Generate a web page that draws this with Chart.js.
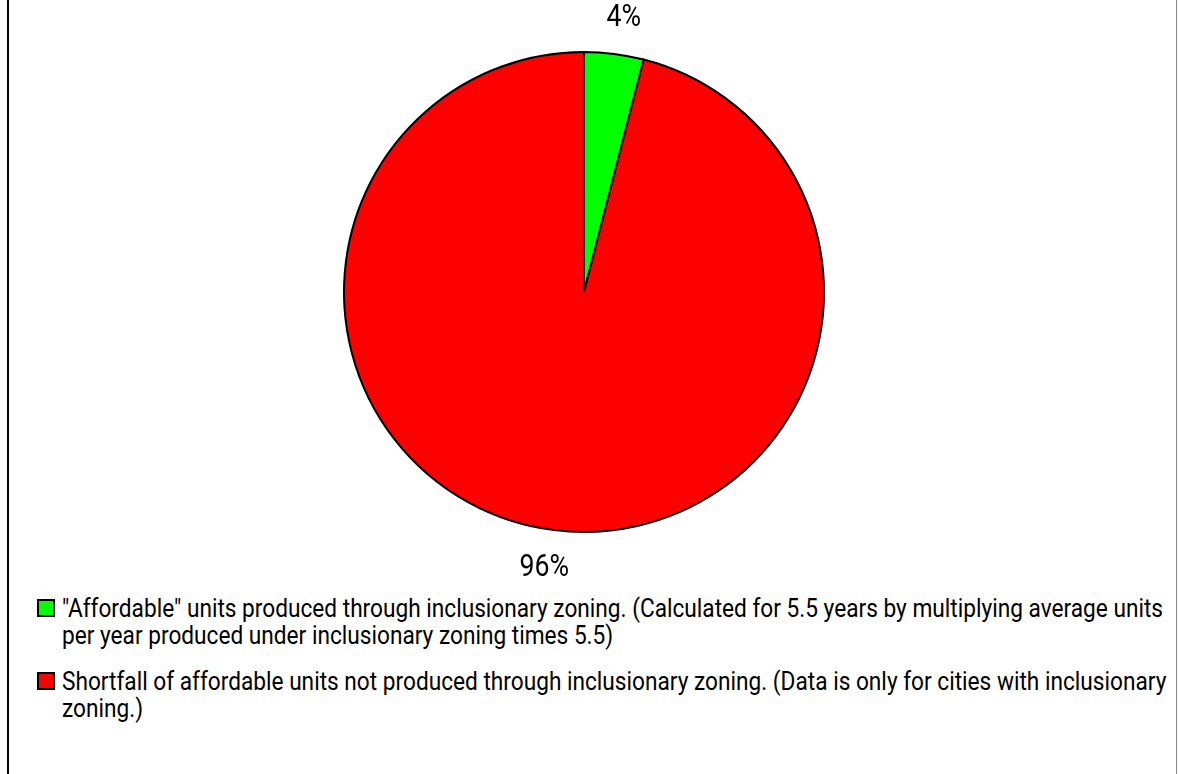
<!DOCTYPE html>
<html>
<head>
<meta charset="utf-8">
<script src="https://cdn.jsdelivr.net/npm/chart.js@4/dist/chart.umd.min.js"></script>
<style>
  html, body { margin: 0; padding: 0; background: #fff; }
  #wrap { position: relative; width: 1178px; height: 774px; overflow: hidden; }
  #lb { position: absolute; left: 7px; top: 0; width: 2px; height: 774px; background: #000; }
  #rb { position: absolute; left: 1176px; top: 0; width: 1px; height: 774px; background: #888; }
  #cv { position: absolute; left: 0; top: 0; }
  #legend { position: absolute; left: 37px; top: 595px;
            font-family: Roboto, "DejaVu Sans Condensed", sans-serif;
            font-size: 25px; color: #000; }
  .item { position: relative; height: 27px; margin-bottom: 46px; }
  .box { position: absolute; left: 0; top: 4px; width: 14px; height: 14px; border: 2px solid #000; }
  .txt { position: absolute; left: 25px; top: 0; line-height: 27px; transform-origin: 0 0; }
</style>
</head>
<body>
<div id="wrap">
  <div id="lb"></div>
  <div id="rb"></div>
  <canvas id="cv" width="1178" height="584"></canvas>
  <div id="legend"></div>
</div>
<script>
const categories = [
  "\"Affordable\" units produced through inclusionary zoning. (Calculated for 5.5 years by multiplying average units per year produced under inclusionary zoning times 5.5)",
  "Shortfall of affordable units not produced through inclusionary zoning. (Data is only for cities with inclusionary zoning.)"
];
const percentValues = [4, 96];
const sliceColors = ["#00FF00", "#FF0000"];

const FONT = 'Roboto, "DejaVu Sans Condensed", sans-serif';
const NARROW = 0.86;

const labelPlugin = {
  id: 'outerLabels',
  afterDatasetsDraw(chart) {
    const ctx = chart.ctx;
    const meta = chart.getDatasetMeta(0);
    const total = percentValues.reduce((a, b) => a + b, 0);
    ctx.save();
    ctx.font = '31px ' + FONT;
    ctx.fillStyle = '#000';
    ctx.textAlign = 'center';
    ctx.textBaseline = 'middle';
    meta.data.forEach((arc, i) => {
      const p = arc.getProps(['x', 'y', 'startAngle', 'endAngle', 'outerRadius'], true);
      const mid = (p.startAngle + p.endAngle) / 2;
      const r = p.outerRadius + 37;
      const txt = Math.round(percentValues[i] / total * 100) + '%';
      const lx = p.x + Math.cos(mid) * r + (Math.cos(mid) >= 0 ? 5 : -5);
      const ly = p.y + Math.sin(mid) * r + 1;
      ctx.save();
      ctx.translate(lx, ly);
      ctx.scale(NARROW, 1);
      ctx.fillText(txt, 0, 0);
      ctx.restore();
    });
    ctx.restore();
  }
};

new Chart(document.getElementById('cv'), {
  type: 'pie',
  data: {
    labels: categories,
    datasets: [{
      data: percentValues,
      backgroundColor: sliceColors,
      borderColor: '#000',
      borderWidth: 2
    }]
  },
  options: {
    responsive: false,
    animation: false,
    radius: 240,
    layout: { padding: { left: 0, right: 10, top: 0, bottom: 0 } },
    plugins: { legend: { display: false }, tooltip: { enabled: false } }
  },
  plugins: [labelPlugin]
});

// measure to find horizontal compression matching the condensed face
const mctx = document.createElement('canvas').getContext('2d');
mctx.font = '25px ' + FONT;
const firstLine = "\"Affordable\" units produced through inclusionary zoning. (Calculated for 5.5 years by multiplying average units";
let s = 1101 / mctx.measureText(firstLine).width;
if (!(s > 0.6 && s < 1.1)) s = NARROW;
const avail = 1108;

const leg = document.getElementById('legend');
categories.forEach((c, i) => {
  const d = document.createElement('div');
  d.className = 'item';
  const b = document.createElement('span');
  b.className = 'box';
  b.style.background = sliceColors[i];
  d.appendChild(b);
  const t = document.createElement('div');
  t.className = 'txt';
  t.style.width = (avail / s) + 'px';
  t.style.transform = 'scaleX(' + s + ')';
  t.textContent = c;
  d.appendChild(t);
  leg.appendChild(d);
});
</script>
</body>
</html>
